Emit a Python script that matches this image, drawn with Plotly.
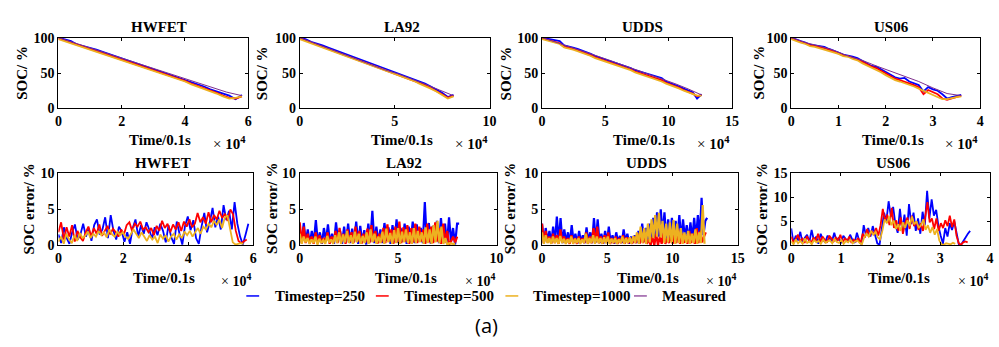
import numpy as np
import plotly.graph_objects as go

W, H = 999, 347

# ---------------- data ----------------
cycles = ["HWFET", "LA92", "UDDS", "US06"]
series_names = ["Timestep=250", "Timestep=500", "Timestep=1000", "Measured"]

# SOC (%) curves, time end (0.1 s units)
soc_end = {"HWFET": 58000, "LA92": 81000, "UDDS": 126000, "US06": 36000}

soc_meas_HWFET = [100, 93, 86, 78.5, 71, 64, 57, 50, 43, 36, 29, 23, 18]
soc_250_HWFET = [100, 98, 95, 90, 88, 86, 83, 80, 77, 74, 71, 68, 65, 62, 59, 56, 53, 50, 47, 44,
                 41, 37, 34, 31, 27, 24, 21, 18, 13, 19]
soc_500_HWFET = [99, 96, 93, 89, 86, 84, 81, 78, 75, 72, 69, 66, 63, 60, 57, 54, 51, 48, 45, 42,
                 39, 35, 32, 29, 25, 22, 18, 15, 14, 17]
soc_1000_HWFET = [98, 95, 92, 88, 85, 83, 80, 77, 74, 71, 68, 65, 62, 59, 56, 53, 50, 47, 44, 41,
                  38, 34, 31, 28, 24, 21, 17, 14, 15, 17]

soc_meas_LA92 = [100, 92.5, 85, 77.5, 70, 62.5, 55, 49, 42, 34, 26, 18]
soc_250_LA92 = [100, 98, 94, 92, 89, 86, 83, 80, 77, 74, 72, 69, 66, 63, 60, 57, 54, 51, 48, 45,
                42, 38, 35, 31, 27, 22, 16, 19]
soc_500_LA92 = [99, 96, 93, 90, 87, 85, 82, 79, 76, 73, 70, 67, 64, 61, 58, 55, 52, 49, 46, 43,
                40, 36, 33, 29, 25, 20, 15, 18]
soc_1000_LA92 = [98, 95, 92, 89, 87, 84, 81, 78, 75, 72, 69, 66, 63, 60, 57, 54, 51, 48, 45, 42,
                 39, 35, 32, 28, 24, 19, 14, 17]

soc_meas_UDDS = [100, 94, 87.5, 81, 75, 68.5, 62, 55.5, 49, 42, 35, 27.5, 19]
soc_250_UDDS = [100, 99, 97, 96, 95, 89, 88, 86, 84, 82, 79, 77, 74, 72, 70, 68, 66, 63, 61, 59,
                57, 54, 52, 50, 49, 47, 45, 43, 38, 36, 34, 31, 28, 26, 23, 14, 20]
soc_500_UDDS = [99, 97, 95, 94, 92, 87, 86, 84, 82, 80, 77, 75, 72, 70, 68, 66, 64, 61, 59, 57,
                55, 52, 50, 48, 46, 44, 42, 40, 36, 34, 32, 29, 26, 24, 21, 17, 19]
soc_1000_UDDS = [98, 96, 94, 93, 91, 86, 85, 83, 81, 79, 76, 74, 71, 69, 67, 65, 63, 60, 58, 56,
                 54, 51, 49, 47, 44, 42, 40, 38, 35, 33, 31, 28, 25, 23, 20, 18, 18]

soc_meas_US06 = [100, 93, 88, 82, 74, 68, 60, 53, 45, 38, 29, 21, 18]
soc_250_US06 = [100, 97, 95, 93, 90, 89, 88, 87, 84, 82, 79, 76, 75, 73, 71, 67, 64, 60, 59, 55,
                52, 48, 44, 42, 43, 38, 36, 33, 24, 30, 27, 25, 20, 14, 16, 17, 19]
soc_500_US06 = [99, 96, 94, 92, 89, 88, 87, 85, 83, 80, 78, 75, 74, 72, 69, 66, 62, 59, 57, 53,
                49, 45, 42, 40, 38, 35, 33, 30, 20, 26, 23, 20, 14, 12, 14, 16, 18]
soc_1000_US06 = [98, 95, 93, 91, 88, 87, 85, 84, 81, 79, 77, 74, 73, 70, 68, 64, 61, 58, 55, 51,
                 47, 43, 40, 38, 36, 33, 31, 28, 25, 23, 20, 17, 13, 13, 15, 16, 17]

# SOC error (%) curves and their time ends
err_end_HWFET = [58500, 58000, 57000]
err_250_HWFET = [1.5, 0.3, 2.5, 1.0, 0.2, 1.8, 2.9, 0.8, 1.5, 3.0, 1.2, 2.4,
                 0.6, 2.8, 3.6, 1.5, 2.2, 3.9, 1.0, 4.2, 2.0, 0.8, 2.6, 1.9,
                 0.5, 1.8, 0.2, 2.4, 3.6, 1.2, 2.8, 1.6, 3.2, 2.2, 0.9, 2.5,
                 1.4, 3.0, 2.0, 0.4, 2.8, 1.1, 0.2, 3.3, 1.6, 0.1, 2.7, 4.0,
                 2.1, 3.5, 1.0, 0.2, 2.6, 4.5, 1.8, 3.2, 5.2, 2.5, 4.0, 2.2,
                 5.6, 3.5, 4.8, 2.2, 6.0, 3.0, 1.2, 0.1, 1.5, 3.0]
err_500_HWFET = [1.8, 3.2, 0.8, 2.5, 1.2, 2.8, 0.5, 2.0, 1.1, 0.6, 1.8, 2.6,
                 1.2, 2.4, 1.6, 2.9, 1.3, 2.1, 2.7, 1.5, 2.3, 1.8, 1.2, 2.2,
                 1.5, 2.8, 3.2, 2.0, 3.0, 2.6, 3.3, 2.2, 2.5, 1.8, 2.4, 1.4,
                 2.7, 2.0, 3.4, 2.4, 3.0, 1.8, 2.9, 2.2, 3.2, 2.0, 3.3, 2.6,
                 3.6, 2.5, 3.0, 4.5, 3.2, 3.9, 3.0, 4.6, 3.2, 4.2, 3.6, 4.8,
                 3.8, 4.4, 3.4, 5.0, 4.3, 2.0, 0.6, 0.3, 0.5, 0.8]
err_1000_HWFET = [0.5, 1.2, 0.2, 1.6, 0.8, 0.3, 1.4, 0.6, 1.7, 1.0, 1.3, 1.9,
                  1.0, 1.6, 1.2, 2.0, 1.4, 1.8, 1.1, 2.2, 1.5, 1.2, 1.9, 1.4,
                  1.8, 1.2, 0.9, 1.5, 2.2, 1.6, 1.0, 1.8, 1.2, 0.6, 1.4, 0.8,
                  1.2, 0.3, 1.5, 0.9, 1.4, 0.5, 1.2, 1.6, 0.8, 1.5, 1.0, 1.9,
                  1.4, 2.0, 1.2, 1.8, 2.4, 1.6, 2.6, 2.2, 3.0, 2.5, 3.4, 2.8,
                  3.6, 2.4, 3.8, 4.2, 2.5, 0.4, 0.1, 0.2, 0.3, 0.2]

err_end_LA92 = [81000, 80000, 79000]
err_250_LA92 = [2.5, 0.3, 3.1, 0.5, 2.2, 0.2, 2.0, 0.4, 3.5, 0.3, 1.8, 0.2, 2.4, 0.6, 2.9, 0.3, 1.6, 0.2, 3.2, 0.5,
                2.0, 0.2, 2.6, 0.4, 3.0, 0.3, 2.3, 0.5, 3.3, 0.2, 2.7, 0.4, 2.1, 0.1, 3.0, 0.5, 4.8, 0.3, 2.6, 0.4,
                2.2, 0.3, 3.1, 0.6, 2.5, 0.2, 2.8, 0.4, 3.6, 0.3, 2.4, 0.5, 3.0, 0.2, 2.6, 0.4, 3.3, 0.3, 2.9, 0.5,
                2.4, 0.3, 6.0, 0.4, 3.1, 0.2, 2.7, 0.5, 3.4, 0.3, 3.8, 0.4, 3.0, 0.2, 3.9, 0.5, 2.4, 0.1, 3.0, 3.0]
err_500_LA92 = [3.2, 0.4, 2.6, 0.3, 1.6, 0.5, 1.2, 0.2, 1.8, 0.4, 1.4, 0.3, 1.0, 0.5, 1.8, 0.2, 1.2, 0.4, 2.0, 0.3,
                2.4, 0.5, 1.6, 0.2, 2.2, 0.4, 1.8, 0.3, 2.6, 0.5, 2.0, 0.2, 1.6, 0.4, 2.3, 0.3, 2.8, 0.5, 2.0, 0.2,
                1.6, 0.4, 2.4, 0.3, 2.9, 0.5, 2.2, 0.2, 2.6, 0.4, 3.3, 0.3, 2.5, 0.5, 2.8, 0.2, 2.4, 0.4, 3.0, 0.3,
                2.6, 0.5, 2.2, 0.2, 3.0, 0.4, 2.6, 0.3, 3.2, 0.5, 2.4, 0.2, 3.0, 0.4, 2.0, 0.1, 0.6, 1.2, 0.4, 1.2]
err_1000_LA92 = [1.6, 0.2, 1.2, 0.4, 1.0, 0.2, 0.8, 0.3, 1.2, 0.1, 0.9, 0.3, 0.7, 0.2, 1.3, 0.4, 0.8, 0.2, 1.4, 0.3,
                 1.8, 0.2, 1.5, 0.4, 2.0, 0.3, 1.4, 0.2, 1.9, 0.4, 1.6, 0.2, 1.3, 0.3, 1.8, 0.2, 2.2, 0.4, 1.6, 0.2,
                 1.2, 0.3, 1.9, 0.2, 2.3, 0.4, 1.7, 0.2, 2.1, 0.3, 2.4, 0.2, 1.9, 0.4, 2.2, 0.3, 1.8, 0.2, 2.4, 0.3,
                 2.0, 0.4, 1.8, 0.2, 2.5, 0.3, 2.2, 0.2, 2.8, 0.4, 3.4, 0.3, 2.6, 0.2, 1.0, 0.1, 0.3, 0.2, 0.2, 0.2]

err_end_UDDS = [126500, 125500, 124500]
err_250_UDDS = [3.0, 0.3, 2.4, 0.5, 2.0, 0.3, 2.6, 0.4, 4.0, 0.5, 3.8, 0.3, 2.2, 0.4, 1.8, 0.3, 2.8, 0.5, 1.6, 0.2,
                2.0, 0.4, 1.4, 0.3, 2.5, 0.5, 1.8, 0.3, 3.8, 0.4, 3.6, 0.3, 1.6, 0.2, 2.0, 0.4, 2.6, 0.3, 1.4, 0.2,
                1.8, 0.4, 1.3, 0.3, 2.2, 0.5, 1.6, 0.2, 1.2, 0.4, 1.4, 0.3, 2.0, 0.4, 3.0, 0.5, 2.4, 0.6, 3.0, 0.8,
                3.8, 1.0, 4.6, 1.2, 5.0, 1.4, 4.6, 0.8, 3.6, 1.0, 3.8, 0.9, 3.4, 1.0, 4.2, 0.8, 3.6, 1.0, 2.8, 0.6,
                3.2, 0.8, 3.8, 1.0, 4.2, 1.1, 6.6, 1.4, 3.4, 3.8]
err_500_UDDS = [3.0, 0.3, 2.0, 0.4, 1.2, 0.2, 1.6, 0.3, 1.4, 0.2, 2.2, 0.4, 1.2, 0.3, 1.0, 0.2, 1.4, 0.3, 1.0, 0.2,
                1.2, 0.4, 1.0, 0.3, 1.8, 0.2, 1.2, 0.3, 2.4, 0.4, 2.6, 0.3, 1.2, 0.2, 1.4, 0.3, 1.8, 0.2, 1.0, 0.3,
                1.2, 0.2, 1.0, 0.3, 1.4, 0.2, 1.1, 0.3, 1.0, 0.2, 1.2, 0.3, 1.6, 0.2, 1.8, 0.3, 1.4, 0.2, 0.8, 0.0,
                1.2, 0.0, 1.6, 0.0, 1.2, 0.2, 1.8, 0.2, 1.0, 0.3, 1.4, 0.2, 1.8, 0.3, 2.2, 0.2, 1.6, 0.3, 1.4, 0.2,
                2.0, 0.3, 1.6, 0.2, 2.4, 0.3, 2.0, 0.4, 1.2, 1.8]
err_1000_UDDS = [1.8, 0.2, 1.4, 0.3, 1.0, 0.2, 1.2, 0.3, 1.0, 0.2, 1.3, 0.3, 0.9, 0.2, 0.8, 0.3, 1.2, 0.2, 0.9, 0.3,
                 1.0, 0.2, 0.8, 0.3, 1.6, 0.2, 1.0, 0.3, 1.4, 0.2, 1.2, 0.3, 1.0, 0.2, 1.1, 0.3, 1.2, 0.2, 0.9, 0.3,
                 1.0, 0.2, 0.8, 0.3, 1.2, 0.2, 1.0, 0.3, 1.1, 0.2, 1.3, 0.3, 1.8, 0.2, 2.6, 0.3, 2.4, 0.2, 3.0, 0.4,
                 3.6, 1.0, 4.2, 1.2, 4.5, 1.1, 3.4, 0.3, 3.0, 0.4, 3.2, 0.3, 3.5, 0.2, 3.0, 0.3, 2.4, 0.2, 1.8, 0.3,
                 2.0, 0.2, 1.6, 0.3, 2.2, 0.2, 1.8, 0.3, 5.6, 0.2]

err_end_US06 = [36000, 35500, 33000]
err_250_US06 = [3.5, 0.5, 2.0, 1.0, 2.8, 0.4, 1.6, 2.2, 0.6, 3.2, 1.0, 1.8, 0.3, 2.4, 1.2, 0.6, 2.0, 1.4, 0.8, 2.6,
                0.9, 1.6, 0.4, 2.0, 1.2, 0.7, 2.2, 1.1, 0.5, 2.6, 1.0, 0.2, 4.2, 2.0, 3.6, 1.8, 4.0, 2.4, 0.4, 0.1,
                3.0, 6.8, 5.0, 9.2, 6.0, 8.0, 4.4, 2.6, 7.6, 3.2, 6.4, 2.0, 8.6, 4.4, 6.8, 3.0, 5.6, 2.4, 7.0, 4.2,
                11.4, 5.6, 9.6, 6.2, 7.4, 4.0, 2.0, 0.3, 3.6, 1.8, 4.6, 3.2, 5.0, 2.4, 0.2, 0.1, 0.9, 1.7, 2.4, 3.0]
err_500_US06 = [1.8, 0.6, 1.2, 2.2, 0.8, 1.4, 0.5, 1.9, 1.0, 0.6, 1.6, 0.9, 2.4, 0.7, 1.8, 1.1, 0.5, 2.0, 1.3, 0.8,
                1.6, 1.0, 2.2, 0.6, 1.4, 0.9, 1.8, 0.5, 1.2, 0.8, 1.5, 0.4, 2.4, 1.6, 3.4, 1.8, 3.0, 2.2, 3.6, 2.0,
                4.2, 7.6, 5.0, 6.4, 4.2, 7.8, 3.6, 5.2, 3.0, 5.8, 2.4, 4.6, 5.8, 3.4, 6.2, 4.0, 5.0, 3.2, 4.6, 3.0,
                6.0, 9.0, 4.8, 5.6, 3.4, 5.6, 3.0, 4.6, 3.6, 5.2, 4.0, 6.2, 3.8, 5.4, 2.0, 0.4, 0.1, 0.6, 0.8, 0.6]
err_1000_US06 = [0.8, 0.2, 1.2, 0.4, 0.9, 0.3, 1.4, 0.5, 0.8, 0.2, 1.1, 0.6, 0.9, 0.3, 1.2, 0.5, 0.8, 1.0, 0.4, 1.3,
                 0.7, 0.5, 1.1, 0.3, 0.9, 0.6, 1.2, 0.4, 0.8, 1.0, 0.5, 0.2, 1.6, 2.4, 1.8, 3.0, 2.2, 2.8, 1.6, 1.2,
                 3.0, 5.4, 4.6, 6.0, 4.2, 5.2, 3.4, 4.4, 3.0, 4.8, 3.6, 5.2, 4.0, 6.0, 4.4, 5.0, 3.6, 4.2, 5.4, 3.2,
                 4.2, 2.6, 3.8, 2.2, 3.4, 1.0, 0.2, 0.1, 0.4, 0.3, 0.2, 0.5, 0.3]

# axis ranges / ticks (time in 0.1 s, shown in units of 1e4)
x_max = {"HWFET": 60000, "LA92": 100000, "UDDS": 150000, "US06": 40000}
x_ticks = {"HWFET": [0, 2, 4, 6], "LA92": [0, 5, 10], "UDDS": [0, 5, 10, 15], "US06": [0, 1, 2, 3, 4]}
err_ymax = {"HWFET": 10, "LA92": 10, "UDDS": 10, "US06": 15}
err_yticks = {"HWFET": [0, 5, 10], "LA92": [0, 5, 10], "UDDS": [0, 5, 10], "US06": [0, 5, 10, 15]}
soc_yticks = [0, 50, 100]

soc_data = {
    "HWFET": (soc_250_HWFET, soc_500_HWFET, soc_1000_HWFET, soc_meas_HWFET),
    "LA92": (soc_250_LA92, soc_500_LA92, soc_1000_LA92, soc_meas_LA92),
    "UDDS": (soc_250_UDDS, soc_500_UDDS, soc_1000_UDDS, soc_meas_UDDS),
    "US06": (soc_250_US06, soc_500_US06, soc_1000_US06, soc_meas_US06),
}
err_data = {
    "HWFET": ((err_250_HWFET, err_500_HWFET, err_1000_HWFET), err_end_HWFET),
    "LA92": ((err_250_LA92, err_500_LA92, err_1000_LA92), err_end_LA92),
    "UDDS": ((err_250_UDDS, err_500_UDDS, err_1000_UDDS), err_end_UDDS),
    "US06": ((err_250_US06, err_500_US06, err_1000_US06), err_end_US06),
}

# ---------------- style / layout ----------------
colors = ["#0000FF", "#FF0000", "#EDB120", "#7E2F8E"]
SERIF = "Liberation Serif, 'Times New Roman', Times, serif"
err_width = {"HWFET": 1.8, "LA92": 2.2, "UDDS": 2.2, "US06": 1.8}


def px(x):
    return x / W


def py(y):
    return 1 - y / H


top_x = [(55, 247), (299, 491), (544, 736), (796, 987)]
bot_x = [(55, 252), (299, 498), (544, 742), (796, 997)]
top_y = (32, 106)
bot_y = (174, 249)

fig = go.Figure()


def axis_common():
    return dict(ticks="inside", ticklen=3, tickcolor="black", tickwidth=1,
                showline=True, linecolor="black", linewidth=1, mirror="ticks",
                showgrid=False, zeroline=False, fixedrange=True,
                tickfont=dict(family=SERIF, size=14, color="black", weight="bold"))


layout = {}
annotations = []
for i, cyc in enumerate(cycles):
    n_top = i + 1
    n_bot = i + 5
    for n, (xl, xr), (yt, yb), kind in [(n_top, top_x[i], top_y, "soc"), (n_bot, bot_x[i], bot_y, "err")]:
        xa = "xaxis" if n == 1 else f"xaxis{n}"
        ya = "yaxis" if n == 1 else f"yaxis{n}"
        xref = "x" if n == 1 else f"x{n}"
        yref = "y" if n == 1 else f"y{n}"
        xd = axis_common()
        xd.update(domain=[px(xl), px(xr)], anchor=yref, range=[0, x_max[cyc]],
                  tickmode="array", tickvals=[t * 10000 for t in x_ticks[cyc]],
                  ticktext=[str(t) for t in x_ticks[cyc]])
        yd = axis_common()
        yd.update(ticklabelstandoff=0)
        if kind == "soc":
            yd.update(domain=[py(yb), py(yt)], anchor=xref, range=[0, 100],
                      tickmode="array", tickvals=soc_yticks, ticktext=[str(v) for v in soc_yticks])
        else:
            yd.update(domain=[py(yb), py(yt)], anchor=xref, range=[0, err_ymax[cyc]],
                      tickmode="array", tickvals=err_yticks[cyc], ticktext=[str(v) for v in err_yticks[cyc]])
        layout[xa] = xd
        layout[ya] = yd

        if kind == "soc":
            vals = soc_data[cyc]
            for k in range(4):
                v = vals[k]
                t = np.linspace(0, soc_end[cyc], len(v))
                fig.add_trace(go.Scatter(x=t, y=v, mode="lines", xaxis=xref, yaxis=yref,
                                         line=dict(color=colors[k], width=1.0 if k == 3 else 1.8),
                                         name=series_names[k], showlegend=False, hoverinfo="skip"))
        else:
            vals, ends = err_data[cyc]
            for k in range(3):
                v = vals[k]
                t = np.linspace(0, ends[k], len(v))
                fig.add_trace(go.Scatter(x=t, y=v, mode="lines", xaxis=xref, yaxis=yref,
                                         line=dict(color=colors[k], width=err_width[cyc]),
                                         name=series_names[k], showlegend=False, hoverinfo="skip"))

title_cx_top = [157, 402, 646, 897]
title_cx_bot = [161, 404, 650, 899]
ytitle_top_x = [18, 261, 508, 763]
ytitle_bot_x = [25, 271, 512, 766]


def ann(text, x, y, size=15, weight="bold", family=SERIF, xanchor="center", textangle=0):
    annotations.append(dict(text=text, x=px(x), y=py(y), xref="paper", yref="paper",
                            showarrow=False, xanchor=xanchor, yanchor="middle", textangle=textangle,
                            font=dict(family=family, size=size, color="black", weight=weight)))


for i, cyc in enumerate(cycles):
    ann(cyc, title_cx_top[i], 21)
    ann(cyc, title_cx_bot[i], 163)
    ann("SOC/ %", ytitle_top_x[i], 69, textangle=-90)
    ann("SOC error/ %", ytitle_bot_x[i], 211, textangle=-90)
    ann("Time/0.1s", (top_x[i][0] + top_x[i][1]) / 2 + 7, 139)
    ann("Time/0.1s", (bot_x[i][0] + bot_x[i][1]) / 2 + 8, 283)
    annotations.append(dict(text="× <b>10<sup>4</sup></b>", x=px(top_x[i][1]), y=py(142),
                            xref="paper", yref="paper", showarrow=False, xanchor="right", yanchor="middle",
                            font=dict(family=SERIF, size=15, color="black")))
    annotations.append(dict(text="× <b>10<sup>4</sup></b>", x=px(bot_x[i][1]), y=py(285),
                            xref="paper", yref="paper", showarrow=False, xanchor="right", yanchor="middle",
                            font=dict(family=SERIF, size=14, color="black")))

# manual legend
shapes = []
leg_line_x = [245, 376, 507, 637]
leg_text_x = [272, 402, 533, 663]
leg_y = 302
for k in range(4):
    shapes.append(dict(type="line", xref="paper", yref="paper",
                       x0=px(leg_line_x[k]), x1=px(leg_line_x[k] + 13), y0=py(leg_y), y1=py(leg_y),
                       line=dict(color=colors[k], width=1.5 if k < 3 else 1.2)))
    ann(series_names[k], leg_text_x[k], leg_y, xanchor="left")

ann("(a)", 488, 333, size=20, weight="normal", family="Open Sans")

fig.update_layout(
    width=W, height=H, margin=dict(l=0, r=0, t=0, b=0),
    paper_bgcolor="white", plot_bgcolor="white",
    showlegend=False, annotations=annotations, shapes=shapes,
    **layout,
)

fig.write_html("out.html")
